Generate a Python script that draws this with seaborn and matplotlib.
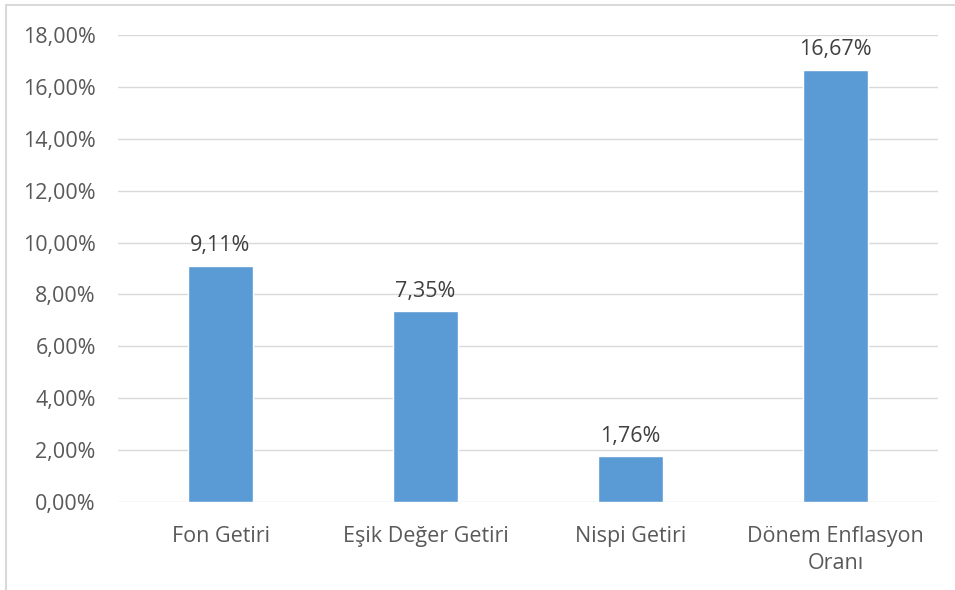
import matplotlib
matplotlib.use("Agg")
import matplotlib.pyplot as plt
import seaborn as sns
import pandas as pd
from matplotlib.patches import Rectangle
from matplotlib.ticker import FuncFormatter

categories = ["Fon Getiri", "Eşik Değer Getiri", "Nispi Getiri", "Dönem Enflasyon\nOranı"]
values = [9.11, 7.35, 1.76, 16.67]
yticks = [0, 2, 4, 6, 8, 10, 12, 14, 16, 18]

df = pd.DataFrame({"cat": categories, "val": values})

sns.set_theme(style="white")
plt.rcParams['font.family'] = ['Open Sans', 'DejaVu Sans']

text_color = "#595959"
fs = 15.5
fig = plt.figure(figsize=(9.55, 5.9), dpi=100)
ax = fig.add_axes([118/955, 1-502/590, (938-118)/955, (502-35)/590])

sns.barplot(data=df, x="cat", y="val", order=categories, color="#5B9BD5",
            saturation=1, width=0.317, ax=ax, zorder=3)

ax.set_ylim(0, 18)
ax.set_xlim(-0.5, 3.5)
ax.set_yticks(yticks)
ax.yaxis.set_major_formatter(FuncFormatter(lambda v, p: f"{v:.2f}".replace(".", ",") + "%"))
ax.grid(axis="y", color="#d9d9d9", linewidth=1, zorder=0)
ax.set_axisbelow(True)
for s in ax.spines.values():
    s.set_visible(False)
ax.set_xlabel("")
ax.set_ylabel("")
ax.tick_params(axis="both", length=0, labelsize=fs, colors=text_color)
ax.tick_params(axis="y", pad=16)
ax.tick_params(axis="x", pad=17)
for lab in ax.get_xticklabels():
    lab.set_linespacing(1.4)

for i, v in enumerate(values):
    ax.annotate(f"{v:.2f}".replace(".", ",") + "%", (i, v), xytext=(0, 7),
                textcoords="offset points", ha="center", va="bottom",
                fontsize=fs, color="#404040")

fig.patches.append(Rectangle((6/955, -0.1), 1.2, 1.1 - 5/590, transform=fig.transFigure,
                             fill=False, edgecolor="#d9d9d9", linewidth=1.5, zorder=10))

fig.savefig("out.png", dpi=100)
